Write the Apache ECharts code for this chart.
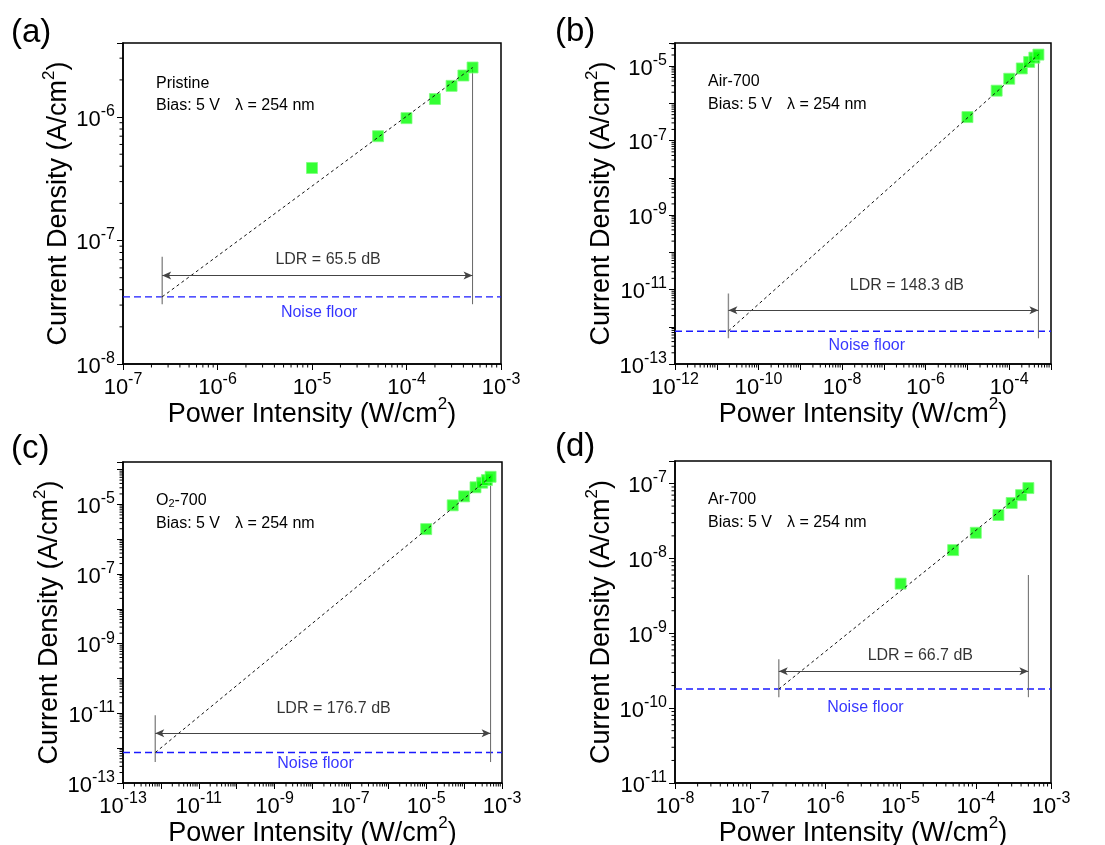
<!DOCTYPE html>
<html><head><meta charset="utf-8">
<script src="https://cdn.jsdelivr.net/npm/echarts@6/dist/echarts.min.js"></script>
<style>html,body{margin:0;padding:0;background:#fff}#c{width:1105px;height:845px}</style>
</head><body><div id="c"></div>
<script>
// ---- data ----
const power = [1e-5, 5e-5, 1e-4, 2e-4, 3e-4, 4e-4, 5e-4];          // W/cm^2
const currentA = [3.87e-7, 7.0e-7, 9.8e-7, 1.40e-6, 1.79e-6, 2.17e-6, 2.52e-6]; // Pristine
const currentB = [4.3e-7, 2.2e-6, 4.6e-6, 8.7e-6, 1.3e-5, 1.7e-5, 2.05e-5];     // Air-700
const currentC = [1.95e-6, 9.4e-6, 1.7e-5, 3.1e-5, 4.2e-5, 5.0e-5, 6.2e-5];     // O2-700
const currentD = [4.6e-9, 1.29e-8, 2.2e-8, 3.8e-8, 5.5e-8, 7.0e-8, 8.7e-8];     // Ar-700
const fitA = [[2.6e-7, 3.5e-8], [5e-4, 2.52e-6]];
const fitB = [[1.9e-11, 7.7e-13], [5e-4, 2.05e-5]];
const fitC = [[7.1e-13, 7.5e-13], [5e-4, 6.2e-5]];
const fitD = [[2.4e-7, 1.8e-10], [5e-4, 8.7e-8]];
const noiseFloor = [3.5e-8, 7.6e-13, 7.5e-13, 1.8e-10];
const ldrText = ['LDR = 65.5 dB', 'LDR = 148.3 dB', 'LDR = 176.7 dB', 'LDR = 66.7 dB'];
const sampleNames = ['Pristine', 'Air-700', 'O{sub|2}-700', 'Ar-700'];
const panelLetters = ['(a)', '(b)', '(c)', '(d)'];
const xRanges = [[1e-7, 1e-3], [1e-12, 1e-3], [1e-13, 1e-3], [1e-8, 1e-3]];
const yRanges = [[1e-8, 3.98e-6], [1e-13, 4.2e-5], [1e-13, 1.65e-4], [1e-11, 2e-7]];
const minorMultipliers = [2, 3, 4, 5, 6, 7, 8, 9];

// ---- annotation anchors (data coords) ----
const ldrY = [5.2e-8, 2.8e-12, 2.7e-12, 3.1e-10];
const leftVTop = [7.4e-8, 7.8e-12, 8.8e-12, 4.5e-10];
const vBottom = [3.05e-8, 4.9e-13, 4e-13, 1.4e-10];
const rightVTop = [2.52e-6, 2.05e-5, 6.2e-5, 6e-9];
const ldrLabelPos = [[1.48e-5, 7.0e-8], [3.55e-7, 1.3e-11], [3.6e-8, 1.34e-11], [1.83e-5, 5.0e-10]];
const noiseLabelPos = [[1.19e-5, 2.62e-8], [3.9e-8, 3.1e-13], [1.2e-8, 3.6e-13], [3.4e-6, 1.03e-10]];

// ---- layout ----
const grids = [
  {left: 123, top: 43, width: 378, height: 321},
  {left: 675, top: 43, width: 376, height: 321},
  {left: 123, top: 462, width: 379, height: 321},
  {left: 675, top: 461, width: 376, height: 322}
];
const xLabelStep = [1, 2, 2, 1];
const yLabelStep = [1, 2, 2, 1];
const yNameGap = [49, 59, 59, 59];
const letterPos = [[11, 35], [555, 34], [11, 451], [555, 449]];
const FONT = '"Liberation Sans", Arial, sans-serif';

const currents = [currentA, currentB, currentC, currentD];
const fits = [fitA, fitB, fitC, fitD];

function labelFormatter(minVal, step) {
  const base = Math.round(Math.log10(minVal));
  return function (v) {
    const l = Math.log10(v);
    const e = Math.round(l);
    if (Math.abs(l - e) > 1e-3) return '';
    if (step === 2 && ((e - base) % 2 !== 0)) return '';
    return '{b|10}{s|' + e + '}';
  };
}
const tickRich = {
  b: {fontSize: 22, fontFamily: FONT, color: '#000', verticalAlign: 'bottom', padding: [5, 0, 0, 0]},
  s: {fontSize: 16, fontFamily: FONT, color: '#000', verticalAlign: 'top'}
};
const nameRich = {
  n: {fontSize: 27, fontFamily: FONT, color: '#000', verticalAlign: 'bottom', padding: [5, 0, 0, 0]},
  s: {fontSize: 17, fontFamily: FONT, color: '#000', verticalAlign: 'top'}
};

function minorTicks(range, axisType, other) {
  const out = [];
  const lo = Math.floor(Math.log10(range[0])), hi = Math.ceil(Math.log10(range[1]));
  for (let k = lo; k <= hi; k++) {
    for (const m of minorMultipliers) {
      const v = m * Math.pow(10, k);
      if (v > range[0] && v < range[1]) out.push(axisType === 0 ? [v, other, 0] : [other, v, 1]);
    }
  }
  return out;
}

const xAxes = [], yAxes = [], series = [], graphics = [];
for (let i = 0; i < 4; i++) {
  xAxes.push({
    type: 'log', logBase: 10, gridIndex: i, min: xRanges[i][0], max: xRanges[i][1], interval: 1,
    name: '{n|Power Intensity (W/cm}{s|2}{n|)}', nameLocation: 'middle', nameGap: 32, nameMoveOverlap: false,
    nameTextStyle: {rich: nameRich, fontSize: 27, fontFamily: FONT, color: '#000'},
    axisLine: {show: true, lineStyle: {color: '#000', width: 1.5}},
    axisTick: {show: true, length: 6, lineStyle: {color: '#000', width: 1}},
    splitLine: {show: false},
    axisLabel: {margin: 8, formatter: labelFormatter(xRanges[i][0], xLabelStep[i]), rich: tickRich, showMinLabel: true, showMaxLabel: true, hideOverlap: false, interval: 0}
  });
  yAxes.push({
    type: 'log', logBase: 10, gridIndex: i, min: yRanges[i][0], max: yRanges[i][1], interval: 1,
    name: '{n|Current Density (A/cm}{s|2}{n|)}', nameLocation: 'middle', nameGap: yNameGap[i], nameRotate: 90,
    nameTextStyle: {rich: nameRich, fontSize: 27, fontFamily: FONT, color: '#000'},
    axisLine: {show: true, lineStyle: {color: '#000', width: 1.5}},
    axisTick: {show: true, length: 6, lineStyle: {color: '#000', width: 1}},
    splitLine: {show: false},
    axisLabel: {margin: 8, formatter: labelFormatter(yRanges[i][0], yLabelStep[i]), rich: tickRich, showMinLabel: true, showMaxLabel: true, hideOverlap: false, interval: 0}
  });

  // squares
  series.push({
    type: 'scatter', xAxisIndex: i, yAxisIndex: i, z: 3,
    data: power.map((p, j) => [p, currents[i][j]]),
    symbol: 'rect', symbolSize: 11,
    itemStyle: {color: '#00ff00', borderColor: '#7dff7d', borderWidth: 1}
  });
  // fit line
  series.push({
    type: 'line', xAxisIndex: i, yAxisIndex: i, z: 4, data: fits[i], symbol: 'none',
    lineStyle: {color: '#111', width: 1, type: [3, 3]}
  });
  // noise floor + LDR arrow
  series.push({
    type: 'line', xAxisIndex: i, yAxisIndex: i, z: 2,
    data: [[xRanges[i][0], noiseFloor[i]], [xRanges[i][1], noiseFloor[i]]], symbol: 'none',
    lineStyle: {color: '#1a1aff', width: 1.4, type: [7, 4]},
    markLine: {
      silent: true, symbol: ['arrow', 'arrow'], symbolSize: [6, 9], animation: false,
      label: {show: false},
      lineStyle: {color: '#444', width: 1, type: 'solid'},
      data: [[{coord: [fits[i][0][0], ldrY[i]]}, {coord: [fits[i][1][0], ldrY[i]]}]]
    }
  });
  // left vertical
  series.push({
    type: 'line', xAxisIndex: i, yAxisIndex: i, z: 2, symbol: 'none',
    data: [[fits[i][0][0], leftVTop[i]], [fits[i][0][0], vBottom[i]]],
    lineStyle: {color: '#8a8a8a', width: 1.4}
  });
  // right vertical
  series.push({
    type: 'line', xAxisIndex: i, yAxisIndex: i, z: 2, symbol: 'none',
    data: [[fits[i][1][0], rightVTop[i]], [fits[i][1][0], vBottom[i]]],
    lineStyle: {color: '#666', width: 1}
  });
  // text labels
  series.push({
    type: 'scatter', xAxisIndex: i, yAxisIndex: i, z: 5, symbolSize: 1,
    itemStyle: {color: 'rgba(0,0,0,0)'},
    data: [
      {value: ldrLabelPos[i], label: {formatter: ldrText[i], color: '#000'}},
      {value: noiseLabelPos[i], label: {formatter: 'Noise floor', color: '#0000ff'}}
    ],
    label: {show: true, position: 'inside', fontSize: 16, fontFamily: FONT}
  });
  // minor ticks
  series.push({
    type: 'custom', xAxisIndex: i, yAxisIndex: i, z: 6, silent: true,
    data: minorTicks(xRanges[i], 0, yRanges[i][0]).concat(minorTicks(yRanges[i], 1, xRanges[i][0])),
    encode: {x: 0, y: 1},
    renderItem: function (params, api) {
      const p = api.coord([api.value(0), api.value(1)]);
      const t = api.value(2);
      const L = 3.5;
      return {
        type: 'line',
        shape: t === 0 ? {x1: p[0], y1: p[1], x2: p[0], y2: p[1] + L} : {x1: p[0] - L, y1: p[1], x2: p[0], y2: p[1]},
        style: {stroke: '#000', lineWidth: 1}
      };
    }
  });

  // sample description text
  const g = grids[i];
  graphics.push({
    type: 'text', left: g.left + 33, top: g.top + (i === 0 ? 33 : 31), z: 10,
    style: {text: sampleNames[i], font: '16px ' + FONT, fill: '#000',
      rich: {sub: {fontSize: 11, fontFamily: FONT, verticalAlign: 'bottom', fill: '#000'}}}
  });
  graphics.push({
    type: 'text', left: g.left + 33, top: g.top + (i === 0 ? 55 : 54), z: 10,
    style: {text: 'Bias: 5 V', font: '16px ' + FONT, fill: '#000'}
  });
  graphics.push({
    type: 'text', left: g.left + 112, top: g.top + (i === 0 ? 55 : 54), z: 10,
    style: {text: 'λ = 254 nm', font: '16px ' + FONT, fill: '#000'}
  });
  graphics.push({
    type: 'text', left: letterPos[i][0], top: letterPos[i][1] - 19, z: 10,
    style: {text: panelLetters[i], font: '33px ' + FONT, fill: '#000'}
  });
}

const chart = echarts.init(document.getElementById('c'), null, {renderer: 'canvas'});
chart.setOption({
  animation: false,
  backgroundColor: '#fff',
  grid: grids.map(g => Object.assign({show: true, borderColor: '#000', borderWidth: 1.5, backgroundColor: 'transparent', containLabel: false, outerBoundsMode: 'none'}, g)),
  xAxis: xAxes,
  yAxis: yAxes,
  series: series,
  graphic: graphics
});
</script></body></html>
